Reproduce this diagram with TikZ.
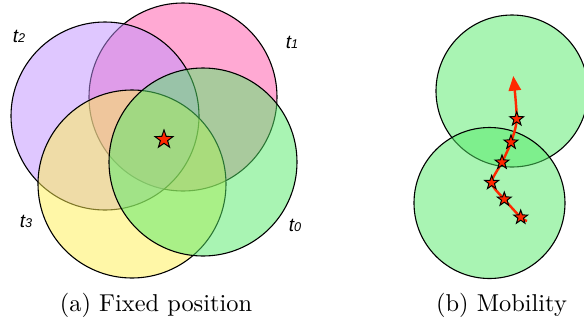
\documentclass[tikz,border=0pt]{standalone}
\usepackage{fontspec}
\newfontfamily\labelfont{Liberation Sans}
\usetikzlibrary{shapes.geometric,arrows.meta}
\definecolor{pinkc}{RGB}{255,85,169}
\definecolor{purplec}{RGB}{193,145,255}
\definecolor{yellowc}{RGB}{255,241,81}
\definecolor{greenc}{RGB}{85,235,105}
\definecolor{redc}{RGB}{255,40,0}
\tikzset{
  zone/.style={draw=black, line width=0.45pt, fill opacity=0.5},
  bigstar/.style={star, star points=5, star point ratio=2.5, minimum size=7.8pt, inner sep=0pt, fill=redc, draw=black, line width=0.4pt},
  smallstar/.style={bigstar, minimum size=6pt},
  tlabel/.style={anchor=base, inner sep=0pt, font=\labelfont\itshape\fontsize{7.8}{7.8}\selectfont},
  caption/.style={anchor=base, inner sep=0pt, font=\fontsize{10}{12}\selectfont},
  track/.style={draw=redc, line width=1pt}
}
\newcommand{\tl}[1]{t{\fontsize{5.2}{5.2}\selectfont #1}}
\begin{document}
\begin{tikzpicture}[x=0.41pt,y=-0.41pt]
\useasboundingbox (0,0) rectangle (584,322);
\clip (0,0) rectangle (584,322);
% (a) fixed position
\fill[white] (0,0) rectangle (584,322);
\draw[zone, fill=pinkc] (183,97) circle[radius=94];
\draw[zone, fill=purplec] (105,116) circle[radius=94];
\draw[zone, fill=yellowc] (132,184) circle[radius=94];
\draw[zone, fill=greenc] (203,162) circle[radius=94];
\node[bigstar] (fix) at (164,139.5) {};
\node[tlabel] (t2) at (19,42) {\tl{2}};
\node[tlabel] (t1) at (292,48) {\tl{1}};
\node[tlabel] (t3) at (26,227) {\tl{3}};
\node[tlabel] (t0) at (295,231) {\tl{0}};
% (b) mobility
\draw[zone, fill=greenc] (512,91) circle[radius=76];
\draw[zone, fill=greenc] (489.5,203) circle[radius=75.5];
\coordinate (tail) at (527,221);
\coordinate (s1) at (520.7,217.3);
\coordinate (s2) at (504.3,199.3);
\coordinate (s3) at (491.7,182.7);
\coordinate (s4) at (502,162.3);
\coordinate (s5) at (511,142.3);
\coordinate (s6) at (516.7,119);
\coordinate (tip) at (513.3,76);
\draw[track, -{Triangle[length=6pt,width=5pt]}] plot[smooth, tension=0.45] coordinates {(tail) (s1) (s2) (s3) (s4) (s5) (s6) (tip)};
\foreach \s in {s1,s2,s3,s4,s5,s6} \node[smallstar] (st\s) at (\s) {};
% captions
\node[caption] (capa) at (156,311) {(a) Fixed position};
\node[caption] (capb) at (501.5,311) {(b) Mobility};
\end{tikzpicture}
\end{document}
